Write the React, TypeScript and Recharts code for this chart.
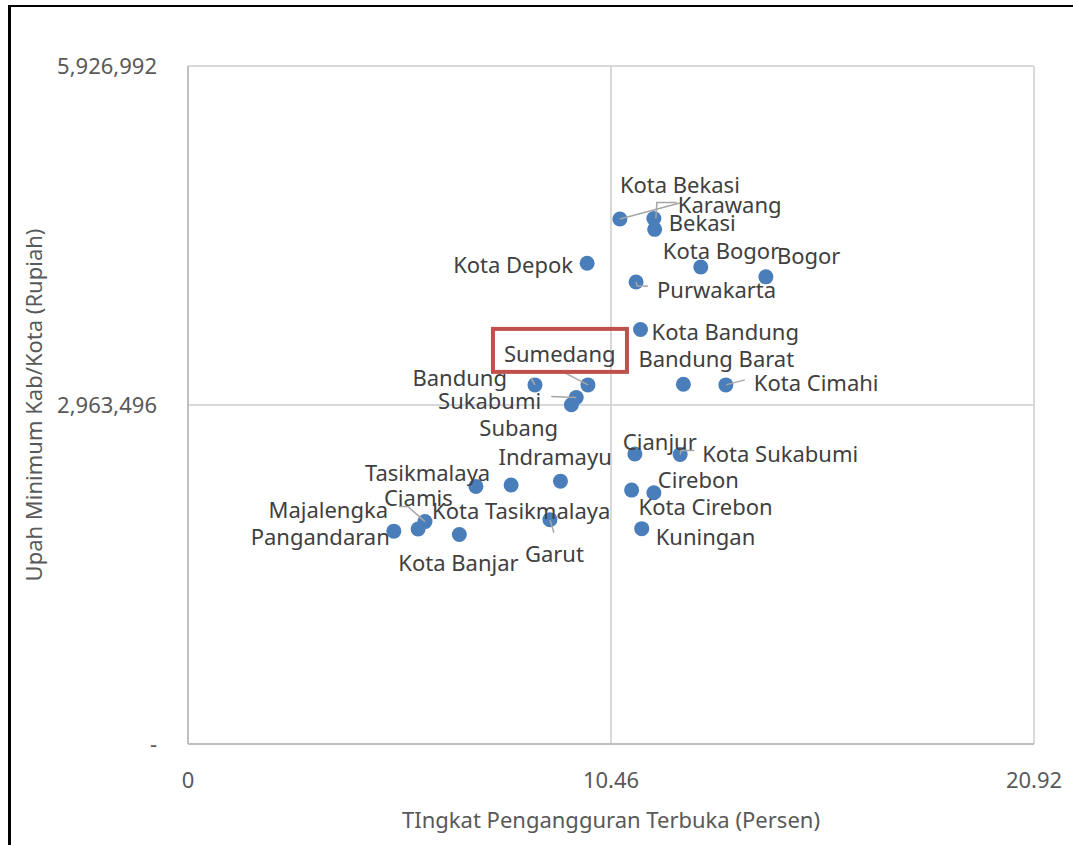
import { CartesianGrid, Scatter, ScatterChart, XAxis, YAxis } from "recharts";

const regions = [
  "Bogor", "Sukabumi", "Cianjur", "Bandung", "Garut", "Tasikmalaya", "Ciamis",
  "Kuningan", "Cirebon", "Majalengka", "Sumedang", "Indramayu", "Subang",
  "Purwakarta", "Karawang", "Bekasi", "Bandung Barat", "Pangandaran",
  "Kota Bogor", "Kota Sukabumi", "Kota Bandung", "Kota Cirebon", "Kota Bekasi",
  "Kota Depok", "Kota Cimahi", "Kota Tasikmalaya", "Kota Banjar",
];

// Tingkat Pengangguran Terbuka (%)
const unemployment = [
  14.29, 9.6, 11.05, 8.58, 8.95, 7.12, 5.86,
  11.22, 11.52, 5.69, 9.89, 9.21, 9.48,
  11.08, 11.52, 11.54, 12.25, 5.09,
  12.68, 12.17, 11.19, 10.97, 10.68,
  9.87, 13.3, 7.99, 6.71,
];

// Upah Minimum Kab/Kota (Rp)
const minWage = [
  4083670, 3028531, 2534798, 3139275, 1961085, 2251787, 1944000,
  1882642, 2196416, 1880000, 3139275, 2297931, 2965468,
  4039067, 4594324, 4498961, 3145427, 1860591,
  4169806, 2530182, 3623778, 2219487, 4589708,
  4202105, 3139274, 2264093, 1831884,
];

const xTicks = [0, 10.46, 20.92];
const yTicks = [0, 2963496, 5926992];

const data = regions.map((name, i) => ({
  name,
  tpt: unemployment[i],
  umk: minWage[i],
}));

const font = "'Noto Sans', 'Open Sans', sans-serif";
const dotColor = "#4a7ebb";

type Place = {
  dx: number;
  dy: number;
  anchor?: "start" | "end";
  leader?: number[][];
  box?: number[];
};

// where each data label sits relative to its point
const placement: Record<string, Place> = {
  "Kota Bekasi": { dx: 0, dy: -35, leader: [[0, 0], [60, -16]] },
  Karawang: { dx: 24, dy: -14, leader: [[2, 0], [3, -16], [23, -16]] },
  Bekasi: { dx: 14, dy: -7 },
  "Kota Bogor": { dx: -38, dy: -17 },
  Bogor: { dx: 11, dy: -22 },
  "Kota Depok": { dx: -14, dy: 1, anchor: "end" },
  Purwakarta: { dx: 21, dy: 7, leader: [[0, 0], [1, 4], [12, 4]] },
  "Kota Bandung": { dx: 11, dy: 2 },
  "Bandung Barat": { dx: -45, dy: -26 },
  "Kota Cimahi": { dx: 28, dy: -3, leader: [[0, 0], [19, -5]] },
  Sumedang: { dx: -84, dy: -32, leader: [[0, 0], [-23, -12]], box: [-95, -56, 134, 43] },
  Bandung: { dx: -28, dy: -8, anchor: "end", leader: [[0, 0], [-4, -7]] },
  Sukabumi: { dx: -35, dy: 2, anchor: "end", leader: [[0, 0], [-25, -1]] },
  Subang: { dx: -92, dy: 22 },
  Cianjur: { dx: -12, dy: -13 },
  "Kota Sukabumi": { dx: 22, dy: -2, leader: [[0, 0], [1, -4], [14, -4]] },
  Cirebon: { dx: 4, dy: -14 },
  "Kota Cirebon": { dx: 7, dy: 16 },
  Kuningan: { dx: 14, dy: 7 },
  Indramayu: { dx: -62, dy: -25 },
  Tasikmalaya: { dx: -111, dy: -14 },
  "Kota Tasikmalaya": { dx: -79, dy: 25 },
  Garut: { dx: -25, dy: 33, leader: [[0, 0], [4, 13]] },
  Ciamis: { dx: -41, dy: -25, leader: [[0, 0], [-17, -15], [-26, -15]] },
  Majalengka: { dx: -30, dy: -20, anchor: "end" },
  Pangandaran: { dx: -4, dy: 5, anchor: "end" },
  "Kota Banjar": { dx: -61, dy: 28 },
};

function Dot(props: any) {
  const { cx, cy } = props;
  return <circle cx={cx} cy={cy} r={7.5} fill={dotColor} />;
}

function PointLabel(props: any) {
  const { cx, cy, payload } = props;
  const p = placement[payload.name] || { dx: 10, dy: 0 };
  return (
    <g>
      {p.leader && (
        <polyline
          points={p.leader.map(([a, b]) => `${cx + a},${cy + b}`).join(" ")}
          fill="none"
          stroke="#a6a6a6"
          strokeWidth={1.5}
        />
      )}
      {p.box && (
        <rect
          x={cx + p.box[0]}
          y={cy + p.box[1]}
          width={p.box[2]}
          height={p.box[3]}
          fill="none"
          stroke="#c0504d"
          strokeWidth={4}
        />
      )}
      <text
        x={cx + p.dx}
        y={cy + p.dy}
        textAnchor={p.anchor || "start"}
        dominantBaseline="central"
        fontSize={22}
        fontFamily={font}
        fill="#404040"
      >
        {payload.name}
      </text>
    </g>
  );
}

const tickStyle = { fill: "#595959", fontSize: 22, fontFamily: font };

export default function App() {
  return (
    <div style={{ position: "relative", width: 1065, height: 830 }}>
      {/* frame edges */}
      <div style={{ position: "fixed", left: 8, top: 5, width: 1065, height: 2, background: "#000", zIndex: 2 }} />
      <div style={{ position: "fixed", left: 8, top: 5, width: 3, height: 840, background: "#000", zIndex: 2 }} />
      <ScatterChart
        width={1065}
        height={830}
        margin={{ top: 58, right: 39, bottom: 0, left: 0 }}
      >
        <CartesianGrid stroke="#d9d9d9" strokeWidth={2} />
        <XAxis
          type="number"
          dataKey="tpt"
          domain={[0, 20.92]}
          ticks={xTicks}
          interval={0}
          tickLine={false}
          tickSize={0}
          tickMargin={28}
          height={94}
          axisLine={{ stroke: "#bfbfbf", strokeWidth: 2 }}
          tick={tickStyle}
          tickFormatter={(v: number) => (v === 0 ? "0" : v.toFixed(2))}
          label={{
            value: "TIngkat Pengangguran Terbuka (Persen)",
            position: "insideBottom",
            offset: 10,
            fill: "#595959",
            fontSize: 22,
            fontFamily: font,
          }}
        />
        <YAxis
          type="number"
          dataKey="umk"
          domain={[0, 5926992]}
          ticks={yTicks}
          interval={0}
          tickLine={false}
          tickSize={0}
          tickMargin={31}
          width={180}
          axisLine={{ stroke: "#bfbfbf", strokeWidth: 2 }}
          tick={tickStyle}
          tickFormatter={(v: number) => (v === 0 ? "-" : v.toLocaleString("en-US"))}
          label={{
            content: (lp: any) => {
              const vb = lp.viewBox || { x: 0, y: 58, height: 678 };
              const x = 25;
              const y = vb.y + vb.height / 2;
              return (
                <text
                  x={x}
                  y={y}
                  transform={`rotate(-90 ${x} ${y})`}
                  textAnchor="middle"
                  dominantBaseline="central"
                  fill="#595959"
                  fontSize={22}
                  fontFamily={font}
                >
                  Upah Minimum Kab/Kota (Rupiah)
                </text>
              );
            },
          }}
        />
        <Scatter data={data} shape={<Dot />} isAnimationActive={false} />
        <Scatter data={data} shape={<PointLabel />} isAnimationActive={false} />
      </ScatterChart>
    </div>
  );
}
